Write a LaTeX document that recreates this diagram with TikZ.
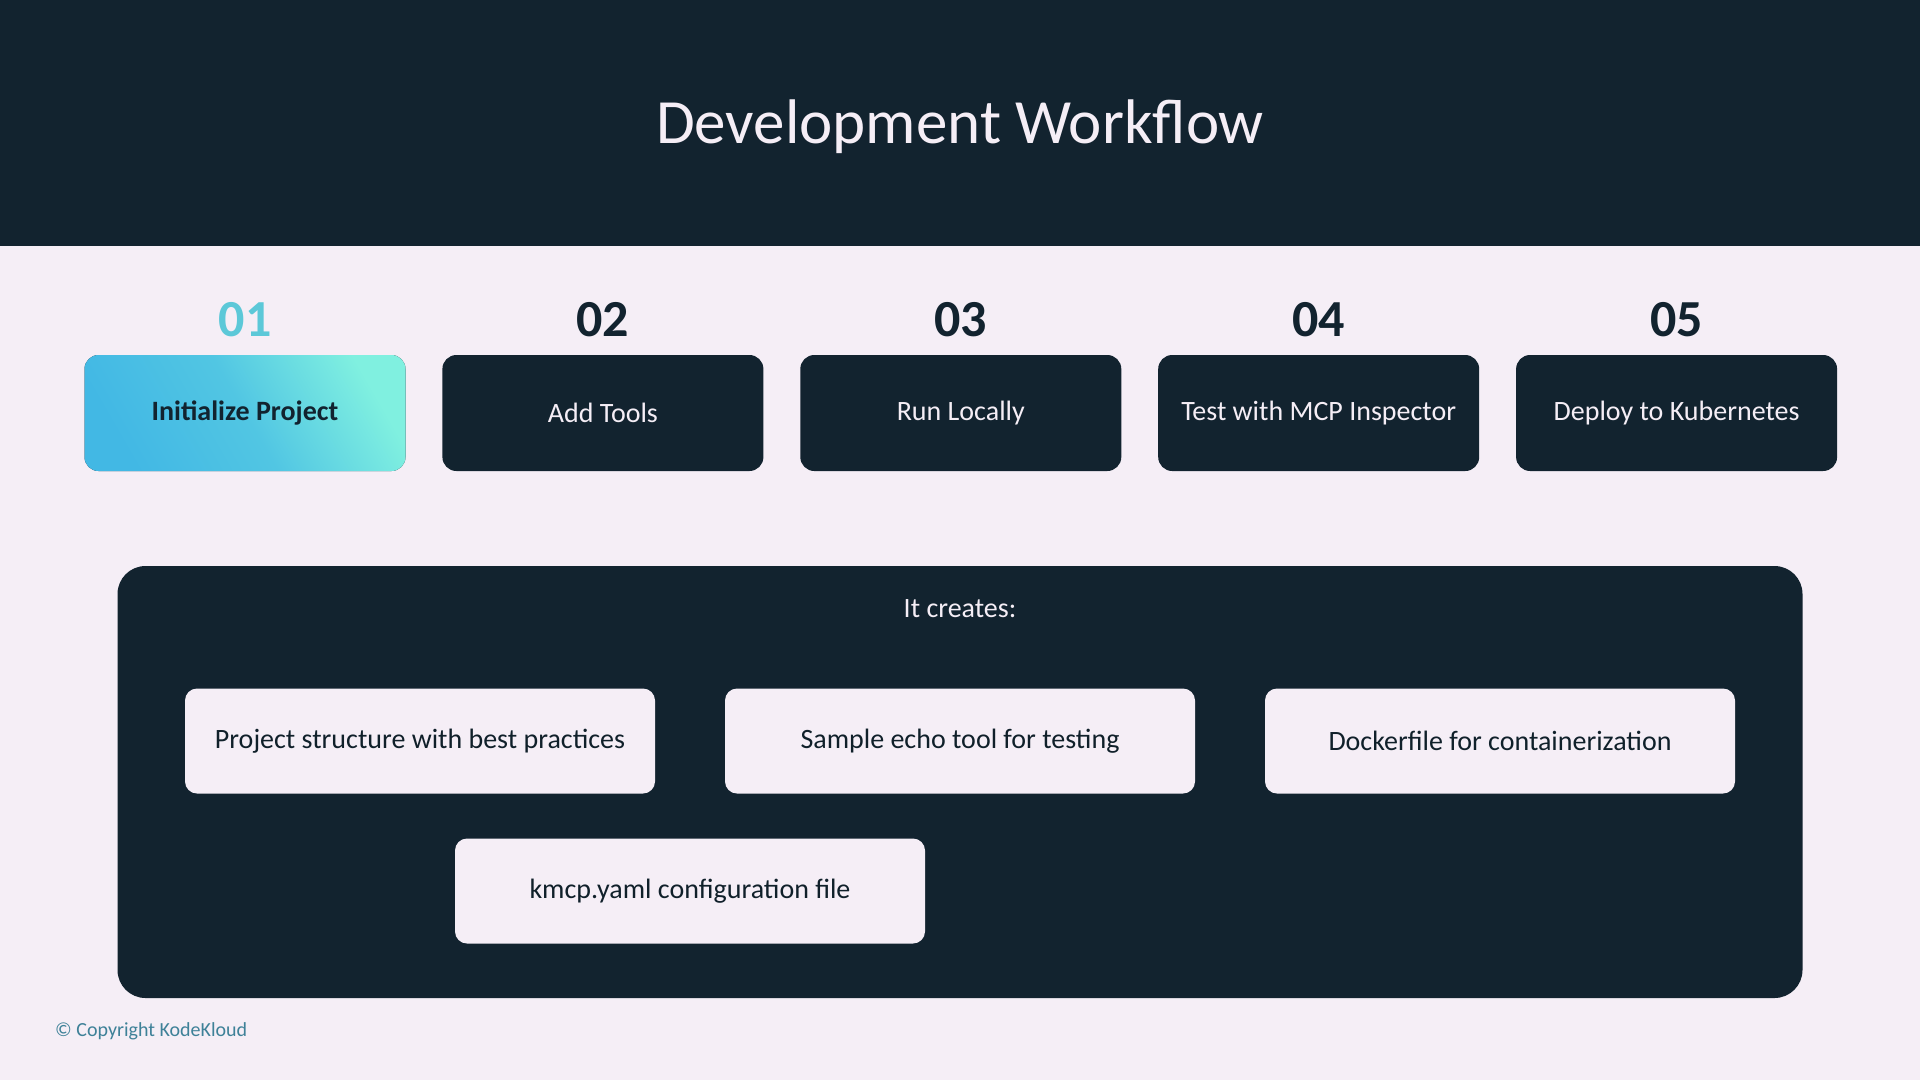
\documentclass[tikz,border=0pt]{standalone}
\usepackage{fontspec}
\setmainfont{Carlito}
\usetikzlibrary{positioning}

\definecolor{navy}{HTML}{12232F}
\definecolor{paper}{HTML}{F5EEF6}
\definecolor{stepcyan}{HTML}{5CC8D8}
\definecolor{copyteal}{HTML}{3E8198}
\definecolor{stepblue}{HTML}{42B8E4}
\definecolor{stepmint}{HTML}{80F0E0}

\tikzset{
  stepbox/.style={rectangle, rounded corners=14pt, fill=navy, text=paper,
    minimum width=321pt, minimum height=116pt, inner sep=0pt,
    font=\fontsize{28}{34}\selectfont},
  activebox/.style={stepbox, bottom color=#1, top color=stepmint,
    middle color=#1!75!stepmint, shading angle=-60, text=navy,
    font=\fontsize{28}{34}\selectfont\bfseries},
  stepnum/.style={inner sep=0pt, text=navy, font=\fontsize{52}{60}\selectfont\bfseries},
  itembox/.style={rectangle, rounded corners=12pt, fill=paper, text=navy!90!black,
    minimum width=470pt, minimum height=105pt, inner sep=0pt,
    font=\fontsize{28}{34}\selectfont},
}

\begin{document}
\begin{tikzpicture}[x=1pt, y=-1pt, node distance=36.5pt]
  \useasboundingbox (0,0) rectangle (1920,1080);
  \fill[paper] (0,0) rectangle (1920,1080);
  \fill[navy] (0,0) rectangle (1920,246);

  \node (title) at (960,127) [text=paper, font=\fontsize{63}{70}\selectfont] {Development Workflow};

  % steps
  \node (s1) at (245,413) [activebox=stepblue] {Initialize Project};
  \node (s2) [stepbox, right=of s1] {Add Tools};
  \node (s3) [stepbox, right=of s2] {Run Locally};
  \node (s4) [stepbox, right=of s3] {Test with MCP Inspector};
  \node (s5) [stepbox, right=of s4] {Deploy to Kubernetes};

  \node (n1) at ([yshift=35pt]s1.north) [stepnum, text=stepcyan] {01};
  \node (n2) at ([yshift=35pt]s2.north) [stepnum] {02};
  \node (n3) at ([yshift=35pt]s3.north) [stepnum] {03};
  \node (n4) at ([yshift=35pt]s4.north) [stepnum] {04};
  \node (n5) at ([yshift=35pt]s5.north) [stepnum] {05};

  % what init creates
  \node (panel) at (960,782) [rectangle, rounded corners=28pt, fill=navy,
    minimum width=1685pt, minimum height=432pt] {};
  \node (creates) at (960,609) [text=paper, font=\fontsize{28}{34}\selectfont] {It creates:};

  \node (structure) at (420,741) [itembox] {Project structure with best practices};
  \node (echo) at (960,741) [itembox] {Sample echo tool for testing};
  \node (docker) at (1500,741) [itembox] {Dockerfile for containerization};
  \node (kmcp) at (690,891) [itembox] {kmcp.yaml configuration file};

  \node (copy) at (55,1031) [anchor=west, inner sep=0pt, text=copyteal,
    font=\fontsize{20}{24}\selectfont] {© Copyright KodeKloud};
\end{tikzpicture}
\end{document}
